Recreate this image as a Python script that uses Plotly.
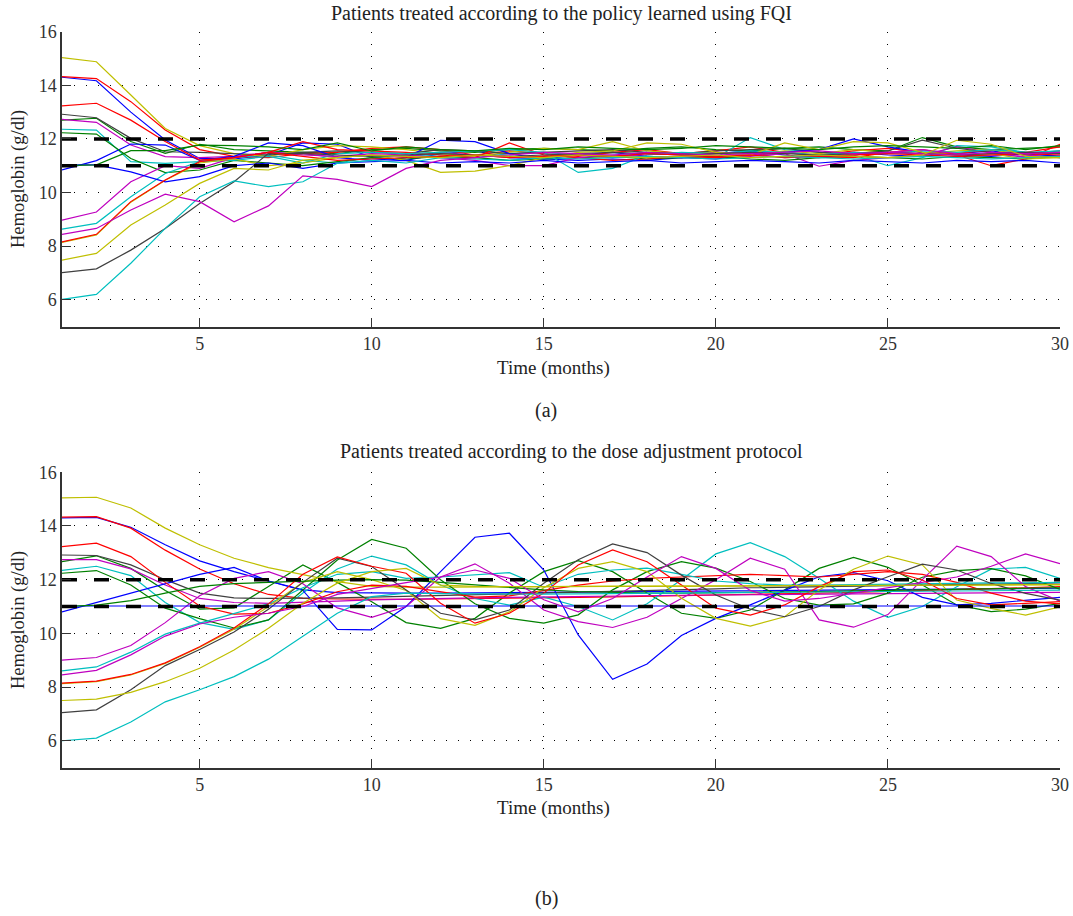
import plotly.graph_objects as go

# months on the x axis
months = list(range(1, 31))

# target range of hemoglobin (g/dl), the two dashed lines
target_low = 11
target_high = 12

# ---- (a) patients treated with the FQI policy ----
fqi_01 = [14.30, 14.17, 13.00, 11.96, 11.27, 11.25, 11.40, 11.85, 11.80, 11.30, 11.20, 11.45, 11.55, 11.30, 11.25,
          11.40, 11.50, 11.35, 11.30, 11.45, 11.55, 11.40, 11.30, 11.50, 11.40, 11.35, 11.45, 11.55, 11.40, 11.30]
fqi_02 = [12.70, 12.77, 11.90, 11.46, 11.80, 11.60, 11.55, 11.50, 11.45, 11.60, 11.65, 11.55, 11.50, 11.60, 11.65,
          11.60, 11.55, 11.65, 11.70, 11.60, 11.55, 11.65, 11.70, 11.60, 11.55, 12.05, 11.70, 11.60, 11.65, 11.70]
fqi_03 = [14.32, 14.25, 13.39, 12.33, 11.60, 11.35, 11.30, 11.45, 11.50, 11.65, 11.70, 11.60, 11.40, 11.55, 11.45,
          11.35, 11.50, 11.60, 11.45, 11.55, 11.70, 11.50, 11.40, 11.55, 11.65, 11.50, 11.45, 11.60, 11.50, 11.70]
fqi_04 = [12.36, 12.33, 11.15, 11.09, 11.15, 11.30, 11.40, 11.20, 11.10, 11.30, 11.40, 11.35, 11.30, 11.45, 11.50,
          11.40, 11.35, 11.50, 11.45, 11.30, 12.05, 11.60, 11.50, 11.40, 11.00, 11.30, 11.75, 11.70, 11.50, 11.30]
fqi_05 = [12.73, 12.62, 11.77, 11.34, 11.30, 11.35, 11.50, 11.45, 11.30, 11.40, 11.35, 11.50, 11.40, 11.30, 11.35,
          11.40, 11.30, 11.45, 11.40, 11.30, 11.35, 11.45, 10.98, 11.20, 11.30, 11.40, 11.70, 11.50, 11.30, 11.40]
fqi_06 = [15.03, 14.88, 13.64, 12.39, 11.75, 11.45, 11.35, 11.60, 11.75, 11.70, 11.60, 11.45, 11.35, 11.50, 11.65,
          11.60, 11.90, 11.55, 11.45, 11.50, 11.40, 11.55, 11.45, 11.60, 11.50, 11.45, 11.55, 11.60, 11.40, 11.50]
fqi_07 = [12.92, 12.79, 12.02, 11.52, 11.50, 11.45, 11.40, 11.50, 11.55, 11.50, 11.45, 11.60, 11.55, 11.45, 11.50,
          11.55, 11.60, 11.50, 11.45, 11.55, 11.60, 11.65, 11.50, 11.45, 11.55, 11.95, 11.65, 11.50, 11.45, 11.55]
fqi_08 = [10.84, 11.19, 11.81, 11.77, 11.20, 11.35, 11.85, 11.75, 11.30, 11.20, 11.30, 11.95, 11.90, 11.45, 11.25,
          11.20, 11.25, 11.20, 11.30, 11.25, 11.40, 11.50, 11.60, 12.00, 11.70, 11.50, 11.40, 11.35, 11.45, 11.35]
fqi_09 = [12.23, 12.18, 11.27, 10.74, 10.84, 11.20, 11.10, 11.00, 11.15, 11.30, 11.25, 11.35, 11.30, 11.20, 11.25,
          11.30, 11.35, 11.25, 11.30, 11.35, 11.25, 11.20, 11.30, 11.35, 11.30, 11.25, 11.35, 11.30, 11.25, 11.35]
fqi_10 = [13.23, 13.33, 12.70, 11.90, 11.21, 11.30, 11.50, 11.90, 11.60, 11.55, 11.50, 11.40, 11.30, 11.85, 11.40,
          11.30, 11.20, 11.25, 11.35, 11.30, 11.40, 11.50, 11.35, 11.30, 11.50, 11.60, 11.40, 11.00, 11.25, 11.80]
fqi_11 = [8.63, 8.85, 9.84, 10.71, 11.15, 11.20, 11.35, 11.10, 11.45, 11.50, 11.45, 11.50, 11.55, 11.60, 11.50,
          10.75, 10.90, 11.40, 11.50, 11.45, 11.55, 11.50, 11.40, 11.50, 11.45, 11.55, 11.50, 11.60, 11.50, 11.55]
fqi_12 = [8.97, 9.27, 10.40, 11.00, 10.90, 11.30, 11.50, 11.40, 11.35, 11.45, 11.40, 11.30, 11.20, 11.00, 11.00,
          11.30, 11.40, 11.35, 11.30, 11.50, 11.45, 11.30, 11.35, 11.40, 11.50, 11.60, 11.45, 11.40, 11.35, 11.50]
fqi_13 = [8.14, 8.42, 9.64, 10.46, 11.10, 11.25, 11.00, 11.10, 11.30, 11.40, 11.20, 10.75, 10.80, 11.00, 11.30,
          11.50, 11.55, 11.85, 11.80, 11.50, 11.40, 11.85, 11.60, 11.90, 11.85, 11.50, 11.40, 11.45, 11.25, 11.30]
fqi_14 = [7.01, 7.15, 7.85, 8.66, 9.59, 10.40, 11.46, 11.45, 11.40, 11.35, 11.40, 11.45, 11.40, 11.35, 11.40,
          11.45, 11.50, 11.45, 11.40, 11.45, 11.50, 11.45, 11.40, 11.45, 11.50, 11.45, 11.40, 11.45, 11.50, 11.45]
fqi_15 = [11.03, 11.03, 10.77, 10.40, 10.59, 11.00, 11.10, 10.90, 11.10, 11.15, 11.20, 11.10, 11.15, 11.10, 11.20,
          11.10, 11.15, 11.20, 11.10, 11.15, 11.20, 11.15, 11.10, 11.20, 11.15, 11.10, 11.20, 11.15, 11.20, 11.10]
fqi_16 = [11.00, 11.03, 11.56, 11.56, 11.77, 11.75, 11.70, 11.60, 11.85, 11.55, 11.70, 11.60, 11.55, 11.65, 11.60,
          11.70, 11.65, 11.60, 11.65, 11.75, 11.70, 11.65, 11.60, 11.70, 11.75, 11.70, 11.65, 11.75, 11.60, 11.75]
fqi_17 = [8.16, 8.44, 9.66, 10.47, 11.15, 11.30, 11.50, 11.35, 11.20, 11.25, 11.30, 11.35, 11.40, 11.30, 11.35,
          11.40, 11.35, 11.45, 11.40, 11.35, 11.40, 11.30, 11.35, 11.40, 11.45, 11.40, 11.35, 11.40, 11.45, 11.40]
fqi_18 = [6.01, 6.20, 7.36, 8.66, 9.84, 10.43, 10.22, 10.40, 11.09, 11.20, 11.10, 11.30, 11.25, 11.20, 11.30,
          11.25, 11.30, 11.35, 11.30, 11.25, 11.30, 11.35, 11.30, 11.25, 11.30, 11.35, 11.30, 11.25, 11.30, 11.35]
fqi_19 = [8.44, 8.66, 9.35, 9.94, 9.66, 8.91, 9.50, 10.62, 10.49, 10.22, 10.90, 11.20, 11.30, 11.40, 11.50,
          11.45, 11.40, 11.50, 11.45, 11.40, 11.45, 11.50, 11.55, 11.45, 11.50, 11.45, 11.40, 11.50, 11.45, 11.50]
fqi_20 = [7.48, 7.73, 8.79, 9.53, 10.34, 10.90, 10.84, 11.21, 11.30, 11.40, 11.35, 11.30, 11.40, 11.35, 11.30,
          11.40, 11.35, 11.30, 11.35, 11.40, 11.30, 11.35, 11.40, 11.35, 11.30, 11.40, 11.95, 11.80, 11.35, 11.30]

# ---- (b) same patients treated with the dose adjustment protocol ----
prot_01 = [14.30, 14.32, 13.95, 13.30, 12.70, 12.30, 11.95, 11.62, 11.52, 11.50, 11.50, 11.50, 11.51, 11.52, 11.53,
           11.54, 11.55, 11.56, 11.57, 11.58, 11.59, 11.60, 11.61, 11.62, 11.63, 11.64, 11.65, 11.66, 11.67, 11.68]
prot_02 = [12.67, 12.89, 12.42, 11.60, 10.90, 10.95, 11.75, 12.55, 11.90, 11.18, 10.40, 10.19, 10.56, 11.50, 12.30,
           12.71, 12.30, 11.50, 10.75, 10.56, 10.87, 11.62, 12.42, 12.83, 12.46, 11.80, 11.06, 10.81, 10.90, 11.12]
prot_03 = [14.33, 14.35, 13.92, 13.10, 12.40, 11.85, 11.45, 11.30, 11.28, 11.27, 11.27, 11.28, 11.29, 11.30, 11.32,
           11.34, 11.36, 11.38, 11.40, 11.42, 11.44, 11.47, 11.50, 11.53, 11.56, 11.59, 11.62, 11.66, 11.70, 11.74]
prot_04 = [12.35, 12.50, 12.15, 11.15, 10.40, 10.15, 10.50, 11.50, 12.40, 12.88, 12.55, 11.80, 11.30, 11.05, 11.35,
           11.00, 10.50, 11.10, 12.00, 12.96, 13.38, 12.86, 12.05, 11.20, 10.60, 11.00, 11.74, 12.39, 12.46, 12.05]
prot_05 = [12.75, 12.75, 12.40, 11.80, 11.30, 11.15, 11.12, 11.15, 11.20, 11.25, 11.28, 11.30, 11.32, 11.34, 11.36,
           11.38, 11.40, 11.41, 11.42, 11.43, 11.44, 11.45, 11.46, 11.47, 11.48, 11.49, 11.50, 11.51, 11.52, 11.53]
prot_06 = [15.05, 15.07, 14.67, 13.92, 13.30, 12.80, 12.45, 12.18, 11.93, 11.75, 11.72, 11.72, 11.73, 11.73, 11.74,
           11.74, 11.75, 11.75, 11.76, 11.76, 11.77, 11.77, 11.78, 11.78, 11.79, 11.79, 11.80, 11.80, 11.81, 11.81]
prot_07 = [12.92, 12.90, 12.55, 12.00, 11.50, 11.32, 11.30, 11.30, 11.32, 11.35, 11.38, 11.40, 11.43, 11.46, 11.50,
           11.53, 11.56, 11.60, 11.63, 11.66, 11.70, 11.72, 11.74, 11.76, 11.78, 11.80, 11.82, 11.84, 11.86, 11.88]
prot_08 = [10.80, 11.15, 11.50, 11.85, 12.20, 12.46, 11.95, 11.60, 10.15, 10.13, 11.00, 12.30, 13.58, 13.73, 12.36,
           9.94, 8.29, 8.86, 9.92, 10.56, 11.06, 11.60, 12.11, 12.26, 11.96, 11.34, 11.06, 11.12, 11.24, 11.34]
prot_09 = [12.24, 12.34, 11.80, 10.94, 10.55, 10.20, 10.50, 11.60, 12.73, 13.50, 13.17, 12.00, 11.10, 10.56, 10.38,
           10.69, 11.62, 12.30, 12.67, 12.43, 11.93, 11.30, 11.05, 11.10, 11.50, 12.09, 12.34, 12.41, 12.14, 11.64]
prot_10 = [13.23, 13.36, 12.86, 11.90, 11.02, 10.72, 10.75, 11.10, 11.55, 11.80, 11.75, 11.55, 11.35, 11.40, 11.60,
           11.80, 11.95, 12.05, 12.10, 12.15, 12.20, 12.15, 12.10, 12.20, 12.30, 12.20, 11.90, 11.50, 11.20, 11.10]
prot_11 = [8.60, 8.75, 9.30, 9.97, 10.38, 10.75, 11.10, 11.70, 12.20, 12.30, 12.05, 12.10, 12.18, 12.26, 11.72,
           12.20, 12.36, 12.43, 12.20, 11.95, 11.85, 11.80, 11.80, 11.82, 11.84, 11.86, 11.86, 11.88, 11.88, 11.90]
prot_12 = [9.00, 9.10, 9.55, 10.40, 11.40, 12.05, 12.30, 11.85, 10.95, 10.60, 11.00, 12.10, 12.59, 11.87, 10.87,
           10.44, 10.22, 10.60, 11.30, 12.00, 12.80, 12.39, 10.50, 10.23, 10.70, 12.00, 13.25, 12.86, 11.74, 11.20]
prot_13 = [8.13, 8.20, 8.45, 8.88, 9.48, 10.15, 11.00, 11.90, 12.30, 12.00, 11.60, 10.55, 10.30, 10.80, 11.70,
           12.42, 12.67, 12.30, 11.31, 10.56, 10.27, 10.62, 11.62, 12.39, 12.88, 12.55, 11.24, 10.93, 10.68, 10.99]
prot_14 = [7.05, 7.15, 7.90, 8.80, 9.40, 10.05, 10.90, 11.90, 12.80, 12.49, 11.62, 10.75, 10.50, 10.87, 11.87,
           12.74, 13.33, 13.01, 12.17, 11.43, 10.90, 10.62, 11.00, 11.62, 12.11, 12.58, 12.36, 11.86, 11.49, 11.24]
prot_15 = [11.02, 11.02, 11.02, 11.02, 11.02, 11.02, 11.02, 11.02, 11.02, 11.02, 11.02, 11.02, 11.02, 11.02, 11.02,
           11.02, 11.02, 11.02, 11.02, 11.02, 11.02, 11.02, 11.02, 11.02, 11.02, 11.02, 11.02, 11.02, 11.02, 11.02]
prot_16 = [11.00, 11.05, 11.22, 11.50, 11.75, 11.85, 11.90, 11.95, 11.98, 12.00, 11.98, 11.90, 11.80, 11.70, 11.62,
           11.56, 11.52, 11.50, 11.50, 11.51, 11.52, 11.54, 11.56, 11.58, 11.60, 11.62, 11.64, 11.66, 11.68, 11.70]
prot_17 = [8.15, 8.22, 8.47, 8.90, 9.50, 10.20, 11.10, 12.20, 12.85, 12.50, 12.24, 11.12, 10.38, 10.75, 11.50,
           12.55, 13.11, 12.67, 11.80, 10.94, 10.68, 11.06, 11.74, 12.30, 12.36, 11.99, 11.30, 11.06, 11.12, 11.18]
prot_18 = [6.00, 6.10, 6.70, 7.45, 7.90, 8.39, 9.04, 9.88, 10.75, 11.37, 11.50, 11.48, 11.47, 11.46, 11.46,
           11.47, 11.48, 11.49, 11.50, 11.51, 11.52, 11.53, 11.54, 11.55, 11.56, 11.57, 11.58, 11.59, 11.60, 11.61]
prot_19 = [8.45, 8.62, 9.20, 9.90, 10.35, 10.60, 10.75, 11.00, 11.45, 11.68, 11.89, 12.10, 12.36, 12.05, 11.25,
           10.80, 11.30, 12.10, 12.86, 12.42, 11.60, 11.20, 11.30, 11.50, 11.70, 11.90, 12.10, 12.50, 12.96, 12.60]
prot_20 = [7.50, 7.55, 7.80, 8.20, 8.70, 9.38, 10.19, 11.12, 11.87, 12.30, 12.42, 11.80, 11.75, 11.74, 11.74,
           11.75, 11.75, 11.76, 11.76, 11.77, 11.77, 11.78, 11.78, 11.79, 11.79, 11.80, 11.80, 11.81, 11.81, 11.82]

fqi_series = [fqi_01, fqi_02, fqi_03, fqi_04, fqi_05, fqi_06, fqi_07, fqi_08, fqi_09, fqi_10,
              fqi_11, fqi_12, fqi_13, fqi_14, fqi_15, fqi_16, fqi_17, fqi_18, fqi_19, fqi_20]
prot_series = [prot_01, prot_02, prot_03, prot_04, prot_05, prot_06, prot_07, prot_08, prot_09, prot_10,
               prot_11, prot_12, prot_13, prot_14, prot_15, prot_16, prot_17, prot_18, prot_19, prot_20]

# old matlab line colour order b g r c m y k
colors = ['#0000ff', '#008000', '#ff0000', '#00bfbf', '#bf00bf', '#bfbf00', '#404040']

W, H = 1073, 916
FONT = 'Liberation Serif'


def px(x):
    return x / W


def py(y):
    return 1 - y / H


fig = go.Figure()

for i, s in enumerate(fqi_series):
    fig.add_trace(go.Scatter(x=months, y=s, mode='lines', xaxis='x', yaxis='y',
                             line=dict(color=colors[i % 7], width=1.2), showlegend=False))
for i, s in enumerate(prot_series):
    fig.add_trace(go.Scatter(x=months, y=s, mode='lines', xaxis='x2', yaxis='y2',
                             line=dict(color=colors[i % 7], width=1.2), showlegend=False))

# dashed target band on top of the patients
for xa, ya in [('x', 'y'), ('x2', 'y2')]:
    for lvl in [target_high, target_low]:
        fig.add_trace(go.Scatter(x=[months[0], months[-1]], y=[lvl, lvl], mode='lines', xaxis=xa, yaxis=ya,
                                 line=dict(color='black', width=3.5, dash='15px,17px'), showlegend=False))

x_dom = [px(62), px(1060)]
# automargin off, otherwise the edge tick labels push the margins and shrink everything
axis_common = dict(showline=True, linecolor='#333333', linewidth=1.5, ticks='inside', ticklen=9,
                   tickcolor='#333333', tickwidth=1.2, showgrid=True, gridcolor='black', gridwidth=1,
                   griddash='1px,11px', zeroline=False, automargin=False,
                   tickfont=dict(family=FONT, size=18, color='#333333'))

fig.update_layout(
    width=W, height=H,
    margin=dict(l=0, r=0, t=0, b=0, autoexpand=False),
    paper_bgcolor='white', plot_bgcolor='white',
    xaxis=dict(domain=x_dom, anchor='y', range=[1, 30], tickvals=[5, 10, 15, 20, 25, 30], **axis_common),
    yaxis=dict(domain=[py(326.5), py(31.7)], anchor='x', range=[5, 16], tickvals=[6, 8, 10, 12, 14, 16],
               **axis_common),
    xaxis2=dict(domain=x_dom, anchor='y2', range=[1, 30], tickvals=[5, 10, 15, 20, 25, 30], **axis_common),
    yaxis2=dict(domain=[py(767.6), py(472.3)], anchor='x2', range=[5, 16], tickvals=[6, 8, 10, 12, 14, 16],
                **axis_common),
)

txt = []
# (text, x px, y px, size, angle)
labels = [
    ('Patients treated according to the policy learned using FQI', 561, 14, 20, 0),
    ('Time (months)', 553, 368, 19, 0),
    ('(a)', 546, 410, 20, 0),
    ('Patients treated according to the dose adjustment protocol', 571, 452, 20, 0),
    ('Time (months)', 553, 808, 19, 0),
    ('(b)', 546, 898, 20, 0),
    ('Hemoglobin (g/dl)', 18, 179, 18.5, -90),
    ('Hemoglobin (g/dl)', 18, 620, 18.5, -90),
]
for t, x, y, sz, ang in labels:
    txt.append(dict(text=t, x=px(x), y=py(y), xref='paper', yref='paper', showarrow=False,
                    xanchor='center', yanchor='middle', textangle=ang,
                    font=dict(family=FONT, size=sz, color='#222222')))
fig.update_layout(annotations=txt)

# drop the default page margin so the figure sits at the window corner
fig.write_html("out.html", config={'displayModeBar': False},
               post_script="document.body.style.margin='0';document.body.style.overflow='hidden';")
